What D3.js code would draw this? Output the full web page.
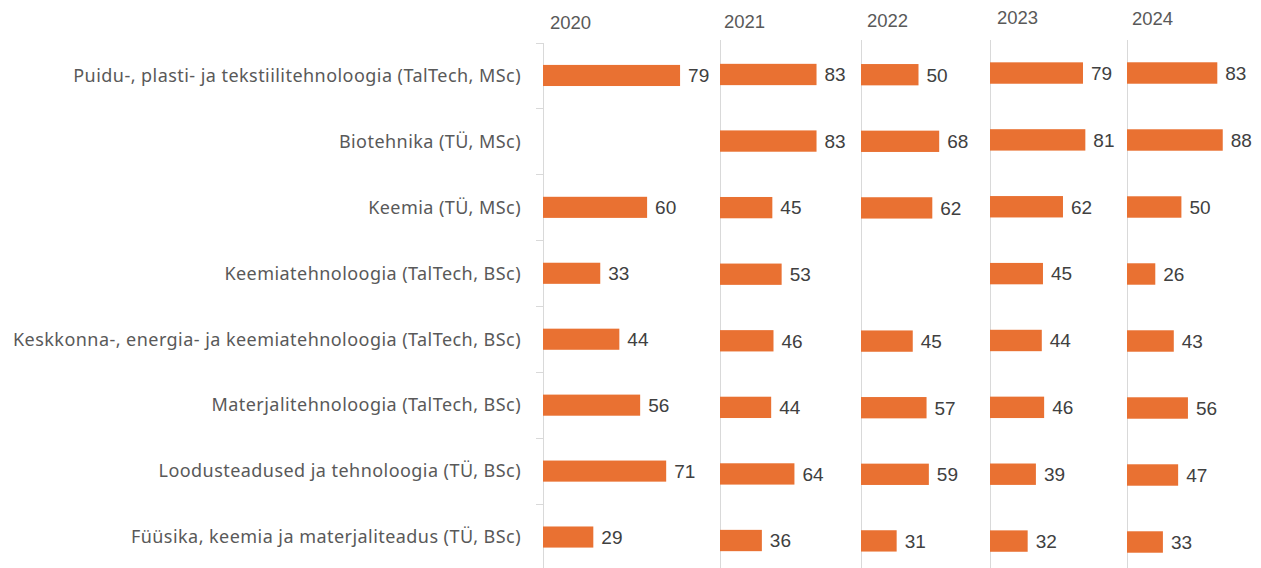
<!DOCTYPE html>
<html lang="et">
<head>
<meta charset="utf-8" />
<title>Erialad 2020-2024</title>
<script src="https://cdn.jsdelivr.net/npm/d3@7"></script>
<style>
  body { margin: 0; background: #fff; }
  svg { display: block; }
</style>
</head>
<body>
<svg width="1261" height="568"></svg>
<script>
// categories (top to bottom)
var categories = [
  'Puidu-, plasti- ja tekstiilitehnoloogia (TalTech, MSc)',
  'Biotehnika (TÜ, MSc)',
  'Keemia (TÜ, MSc)',
  'Keemiatehnoloogia (TalTech, BSc)',
  'Keskkonna-, energia- ja keemiatehnoloogia (TalTech, BSc)',
  'Materjalitehnoloogia (TalTech, BSc)',
  'Loodusteadused ja tehnoloogia (TÜ, BSc)',
  'Füüsika, keemia ja materjaliteadus (TÜ, BSc)'
];
var years = ['2020', '2021', '2022', '2023', '2024'];

// one array per year, same order as categories (null = no value)
var v2020 = [79, null, 60, 33, 44, 56, 71, 29];
var v2021 = [83, 83, 45, 53, 46, 44, 64, 36];
var v2022 = [50, 68, 62, null, 45, 57, 59, 31];
var v2023 = [79, 81, 62, 45, 44, 46, 39, 32];
var v2024 = [83, 88, 50, 26, 43, 56, 47, 33];
var values = [v2020, v2021, v2022, v2023, v2024];

// each panel is its own little chart, placed side by side
var panels = [
  { x: 543,  w: 173.5, top: 42.5, bottom: 570,   axisTop: 43, labelDx: 7, labelY: 29 },
  { x: 720,  w: 116.3, top: 41.2, bottom: 573.8, axisTop: 40, labelDx: 4, labelY: 28 },
  { x: 861,  w: 115,   top: 41.4, bottom: 574.2, axisTop: 40, labelDx: 6, labelY: 27 },
  { x: 990,  w: 117.7, top: 39.6, bottom: 574.5, axisTop: 40, labelDx: 7, labelY: 24 },
  { x: 1127, w: 108.8, top: 39.5, bottom: 575.5, axisTop: 40, labelDx: 5, labelY: 25 }
];

var svg = d3.select('svg');
var orange = '#E97132';

// category labels and ticks follow the first panel
var y0 = d3.scaleBand().domain(categories).range([panels[0].top, panels[0].bottom]);

svg.append('g').selectAll('text')
  .data(categories)
  .enter().append('text')
    .attr('x', 521)
    .attr('y', function(d) { return y0(d) + y0.bandwidth() / 2; })
    .attr('dy', '0.35em')
    .attr('text-anchor', 'end')
    .attr('font-family', 'Noto Sans, sans-serif')
    .attr('font-size', 18)
    .attr('letter-spacing', 0.45)
    .attr('fill', '#595959')
    .text(function(d) { return d; });

svg.append('g').selectAll('line')
  .data(categories)
  .enter().append('line')
    .attr('x1', 536).attr('x2', 543)
    .attr('y1', function(d) { return Math.round(y0(d)) + 0.5; })
    .attr('y2', function(d) { return Math.round(y0(d)) + 0.5; })
    .attr('stroke', '#D9D9D9');

panels.forEach(function(p, i) {
  var x = d3.scaleLinear().domain([0, 100]).range([p.x, p.x + p.w]);
  var y = d3.scaleBand().domain(categories).range([p.top, p.bottom]);
  var barH = y.bandwidth() * 0.32;
  var data = categories.map(function(c, j) { return { cat: c, v: values[i][j] }; })
    .filter(function(d) { return d.v != null; });

  var g = svg.append('g');

  g.append('line')
    .attr('x1', p.x + 0.5).attr('x2', p.x + 0.5)
    .attr('y1', p.axisTop).attr('y2', 568)
    .attr('stroke', '#D9D9D9');

  g.append('text')
    .attr('x', p.x + p.labelDx)
    .attr('y', p.labelY)
    .attr('font-family', 'Liberation Sans, Arial, sans-serif')
    .attr('font-size', 18.5)
    .attr('fill', '#595959')
    .text(years[i]);

  g.selectAll('rect')
    .data(data)
    .enter().append('rect')
      .attr('x', x(0))
      .attr('y', function(d) { return y(d.cat) + (y.bandwidth() - barH) / 2; })
      .attr('width', function(d) { return x(d.v) - x(0); })
      .attr('height', barH)
      .attr('fill', orange);

  g.selectAll('text.val')
    .data(data)
    .enter().append('text')
      .attr('class', 'val')
      .attr('x', function(d) { return x(d.v) + 8; })
      .attr('y', function(d) { return y(d.cat) + y.bandwidth() / 2; })
      .attr('dy', '0.36em')
      .attr('font-family', 'Liberation Sans, Arial, sans-serif')
      .attr('font-size', 19)
      .attr('fill', '#404040')
      .text(function(d) { return d.v; });
});
</script>
</body>
</html>
